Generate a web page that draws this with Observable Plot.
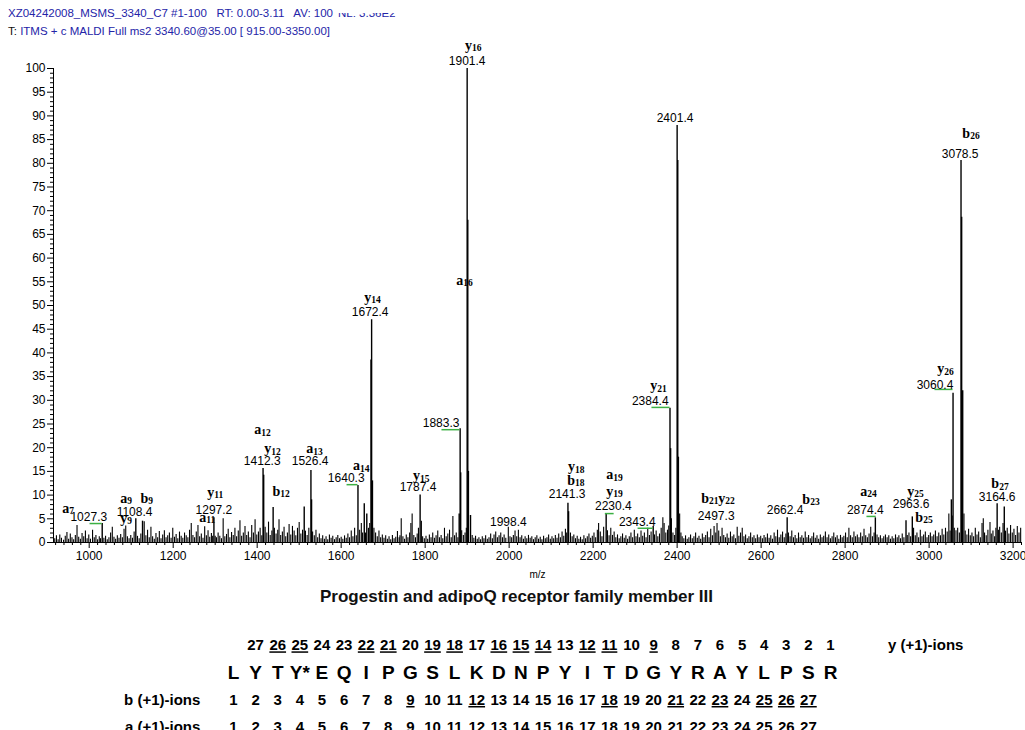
<!DOCTYPE html>
<html><head><meta charset="utf-8">
<script src="https://cdn.jsdelivr.net/npm/d3@7"></script>
<script src="https://cdn.jsdelivr.net/npm/@observablehq/plot@0.6"></script>
<style>
body{margin:0;background:#fff;}
#wrap{position:relative;width:1025px;height:730px;overflow:hidden;font-family:"Liberation Sans",Arial,sans-serif;background:#fff;}
.hdr{position:absolute;font-size:11.5px;color:#2424a8;white-space:pre;line-height:14px;}
#nl{clip-path:inset(50% 0 0 0);}
#main{position:absolute;left:0;top:0;}
#title{position:absolute;top:587px;left:0;width:1033px;text-align:center;font-weight:bold;font-size:17px;color:#111;line-height:20px;}
#table{position:absolute;left:0;top:615px;}
</style></head><body><div id="wrap">
<div class="hdr" id="h1" style="left:8px;top:6px;"></div>
<div class="hdr" id="nl" style="left:338px;top:6px;"></div>
<div class="hdr" id="h2" style="left:8px;top:24px;"></div>
<div id="main"></div>
<div id="title"></div>
<div id="table"></div>
</div>
<script>
// ---------- header / title text ----------
const headerLine1 = "XZ04242008_MSMS_3340_C7 #1-100   RT: 0.00-3.11   AV: 100";
const headerNL = "NL: 3.36E2";
const headerLine2a = "T:";
const headerLine2b = " ITMS + c MALDI Full ms2 3340.60@35.00 [ 915.00-3350.00]";
const chartTitle = "Progestin and adipoQ receptor family member III";

// ---------- axis ticks ----------
const xTicks = [1000, 1200, 1400, 1600, 1800, 2000, 2200, 2400, 2600, 2800, 3000, 3200];
const yTicks = [0, 5, 10, 15, 20, 25, 30, 35, 40, 45, 50, 55, 60, 65, 70, 75, 80, 85, 90, 95, 100];

// ---------- spectrum: major peaks [m/z, relative abundance] ----------
const majorPeaks = [
  [1031, 4.0], [1111, 5.0], [1127, 4.5], [1297, 5.2], [1414, 15.6], [1415.5, 14.2], [1438, 7.4],
  [1512, 7.5], [1528, 15.2], [1529.5, 9.0], [1640, 12.0], [1655, 8.2], [1661, 6.0],
  [1671, 38.5], [1672.5, 47.0], [1674.5, 13.0], [1788, 10.0], [1881, 6.0], [1883.3, 24.0], [1884.6, 14.7],
  [1900, 100], [1901.5, 68.0], [1903, 15.0], [1908, 5.7], [2140, 8.3], [2141.5, 6.5],
  [2231, 6.0], [2343, 3.4], [2383, 28.3], [2384.5, 19.8], [2386, 5.0],
  [2400, 88.0], [2401.5, 80.6], [2403, 18.0], [2662, 5.2], [2872, 5.2], [2945, 4.6], [2960, 5.4],
  [3053, 9.0], [3057, 31.5], [3076, 80.6], [3077.5, 68.6], [3080, 32.0], [3162, 8.2], [3179, 7.5]
];

// ---------- spectrum: baseline noise peaks [m/z, relative abundance] ----------
const minorPeaks = [
  [918,0.8],[922,1.4],[926,0.6],[930,1.6],[934,0.9],[939,0.5],[943,1.3],[947,2.1],[951,0.7],[955,1.8],[959,1.0],[963,0.6],[967,1.5],[971,3.6],[975,1.1],[979,0.7],[983,1.9],[987,1.2],[991,2.4],[995,0.8],[999,1.6],
  [1003,0.7],[1008,2.6],[1012,1.0],[1016,1.5],[1020,0.6],[1024,1.2],[1027,0.8],[1035,0.9],[1039,1.3],[1043,0.6],[1047,1.0],[1051,2.0],[1055,3.2],[1059,1.1],[1063,0.7],[1067,1.4],[1071,0.9],[1075,1.7],[1079,1.0],[1083,2.8],[1087,3.5],[1091,1.2],[1095,0.8],[1099,1.5],
  [1103,0.9],[1107,2.2],[1115,1.3],[1119,0.8],[1123,1.8],[1131,4.4],[1135,1.4],[1139,2.6],[1143,1.0],[1147,3.2],[1151,1.2],[1155,0.7],[1159,1.9],[1163,1.0],[1167,2.3],[1171,0.8],[1175,1.6],[1179,2.5],[1183,1.0],[1187,1.4],[1191,2.0],[1195,0.9],[1199,3.0],
  [1203,1.1],[1207,1.7],[1211,0.8],[1215,2.2],[1219,1.3],[1223,0.9],[1227,2.0],[1231,1.4],[1235,1.0],[1239,2.6],[1243,4.0],[1247,1.5],[1251,1.0],[1255,2.2],[1259,3.6],[1263,1.2],[1267,1.8],[1271,0.9],[1275,3.3],[1279,1.4],[1283,2.5],[1287,1.1],[1291,1.9],[1294,1.3],[1300,1.3],
  [1303,1.0],[1307,2.0],[1311,1.3],[1315,0.8],[1319,5.0],[1323,1.2],[1327,1.7],[1331,2.8],[1335,1.0],[1339,2.1],[1343,1.5],[1347,3.0],[1351,1.2],[1355,2.4],[1359,4.6],[1363,1.3],[1367,2.0],[1371,3.4],[1375,1.5],[1379,2.2],[1383,1.0],[1387,3.6],[1391,2.0],[1395,4.8],[1399,1.6],
  [1403,2.2],[1407,3.0],[1411,1.4],[1419,3.2],[1423,2.0],[1427,4.3],[1431,1.5],[1435,2.4],[1441,3.0],[1445,1.8],[1449,2.6],[1452,4.8],[1456,1.5],[1460,2.2],[1464,3.2],[1468,1.2],[1472,2.0],[1476,3.8],[1480,1.6],[1484,3.4],[1488,2.4],[1492,1.4],[1496,3.0],
  [1500,4.2],[1504,1.8],[1508,2.6],[1515,2.4],[1519,1.5],[1523,3.0],[1532,2.2],[1536,1.4],[1540,2.6],[1544,1.0],[1548,1.8],[1552,0.8],[1556,1.4],[1560,0.7],[1564,1.2],[1568,0.6],[1572,1.6],[1576,0.9],[1580,1.3],[1584,0.6],[1588,1.0],[1592,1.5],[1596,0.8],
  [1600,1.1],[1604,0.7],[1608,1.4],[1612,0.9],[1616,1.8],[1620,1.0],[1624,2.4],[1628,1.2],[1632,3.0],[1636,1.4],[1644,2.6],[1648,4.0],[1651,2.0],[1658,2.0],[1665,3.0],[1668,4.0],[1678,3.0],[1682,2.0],[1686,1.2],[1690,2.4],[1694,1.0],[1698,1.6],
  [1702,0.9],[1706,1.4],[1710,0.7],[1714,1.2],[1718,0.6],[1722,1.5],[1726,0.8],[1730,1.1],[1734,2.3],[1738,1.0],[1740,1.4],[1743,5.0],[1747,1.2],[1751,0.7],[1755,1.6],[1759,1.0],[1763,2.0],[1766,4.0],[1769,6.0],[1773,1.5],[1777,1.0],[1781,1.8],[1784,3.0],[1791,4.5],[1794,1.2],[1798,0.8],
  [1802,1.3],[1806,0.7],[1810,1.6],[1814,1.0],[1818,2.0],[1822,0.9],[1826,1.4],[1830,2.4],[1834,1.0],[1838,1.5],[1842,0.8],[1846,3.0],[1850,1.2],[1854,1.8],[1858,2.6],[1862,1.0],[1866,5.5],[1870,1.4],[1874,2.0],[1878,1.0],[1887,2.5],[1891,1.5],[1895,2.0],[1898,3.0],
  [1912,1.5],[1916,0.9],[1920,1.3],[1924,0.7],[1928,1.0],[1932,0.6],[1936,1.2],[1940,0.8],[1944,1.4],[1948,0.7],[1952,1.0],[1956,1.8],[1960,0.8],[1964,1.6],[1968,2.2],[1972,1.0],[1976,1.4],[1980,2.0],[1984,1.0],[1988,1.6],[1992,0.9],[1998,3.2],[2002,1.2],
  [2006,1.0],[2010,1.5],[2014,2.4],[2018,1.2],[2022,2.6],[2026,1.0],[2030,1.4],[2034,0.7],[2038,1.2],[2042,0.8],[2046,1.5],[2050,0.9],[2054,1.2],[2058,0.6],[2062,1.0],[2066,1.4],[2070,0.7],[2074,1.1],[2078,0.6],[2082,1.3],[2086,0.8],[2090,1.0],[2094,1.6],[2098,0.7],
  [2102,1.2],[2106,0.8],[2110,1.5],[2114,0.9],[2118,1.8],[2122,1.0],[2126,2.2],[2130,1.3],[2134,2.8],[2137,2.0],[2146,2.0],[2150,1.2],[2154,1.6],[2158,0.8],[2162,1.3],[2166,0.7],[2170,1.1],[2174,0.6],[2178,1.4],[2182,0.8],[2186,1.2],[2190,1.8],[2194,0.9],[2198,1.3],
  [2202,2.0],[2206,1.0],[2210,2.6],[2213,4.0],[2217,2.2],[2221,1.2],[2225,3.2],[2234,2.5],[2238,1.4],[2242,3.0],[2246,1.5],[2250,2.2],[2254,1.0],[2258,1.6],[2262,0.8],[2266,1.2],[2270,1.8],[2274,0.9],[2278,1.4],[2282,0.7],[2286,1.2],[2290,2.0],[2294,1.0],[2298,2.6],
  [2302,1.2],[2306,1.8],[2310,1.0],[2314,2.4],[2318,1.3],[2322,2.0],[2326,1.0],[2330,3.0],[2334,1.5],[2338,2.2],[2346,1.6],[2350,2.4],[2354,1.2],[2358,1.8],[2362,3.0],[2366,5.2],[2369,4.0],[2373,2.0],[2377,2.6],[2380,3.5],[2390,2.0],[2394,1.5],[2397,3.0],[2406,6.0],[2409,2.0],
  [2412,1.2],[2416,0.8],[2420,1.4],[2424,0.7],[2428,1.0],[2432,1.6],[2436,0.8],[2440,1.2],[2444,2.0],[2448,0.9],[2452,1.3],[2456,0.7],[2460,1.8],[2464,1.0],[2468,1.5],[2472,2.2],[2476,1.0],[2480,2.8],[2484,1.4],[2488,3.4],[2492,2.0],[2495,4.0],[2499,2.4],
  [2503,1.2],[2507,3.0],[2511,1.5],[2515,1.0],[2519,1.8],[2523,0.9],[2527,2.2],[2531,1.2],[2535,1.6],[2539,0.8],[2543,3.2],[2547,1.3],[2551,2.0],[2555,3.0],[2559,1.2],[2563,1.6],[2567,0.8],[2571,1.2],[2575,2.0],[2579,1.0],[2583,1.4],[2587,0.8],[2591,1.6],[2595,1.0],[2599,1.3],
  [2603,0.8],[2607,1.5],[2611,1.0],[2615,1.8],[2619,0.9],[2623,1.4],[2627,0.7],[2631,2.0],[2635,1.2],[2639,2.6],[2643,1.0],[2647,1.6],[2651,2.2],[2655,1.0],[2659,1.8],[2665,2.0],[2669,1.2],[2673,2.4],[2677,1.0],[2681,1.5],[2685,0.8],[2689,2.0],[2693,1.0],[2697,1.4],
  [2701,0.9],[2705,2.2],[2709,1.0],[2713,1.5],[2717,0.8],[2721,1.2],[2725,2.0],[2729,0.9],[2733,1.4],[2737,0.7],[2741,1.6],[2745,1.0],[2749,1.3],[2753,2.2],[2757,1.0],[2761,1.6],[2765,0.8],[2769,1.2],[2773,2.0],[2777,1.0],[2781,1.4],[2785,0.7],[2789,1.5],[2793,1.0],[2797,1.3],
  [2801,2.0],[2805,1.0],[2809,3.0],[2813,1.4],[2817,1.0],[2821,2.2],[2825,1.2],[2829,1.6],[2833,1.0],[2837,2.0],[2841,1.2],[2845,2.8],[2849,1.4],[2853,1.0],[2857,1.8],[2861,3.2],[2865,1.2],[2869,2.0],[2876,1.6],[2880,1.0],[2884,1.4],[2888,0.8],[2892,1.2],[2896,1.6],
  [2900,1.0],[2904,1.4],[2908,0.7],[2912,1.2],[2916,0.8],[2920,1.6],[2924,1.0],[2928,1.4],[2932,0.8],[2936,1.8],[2940,1.0],[2948,1.5],[2952,2.0],[2956,1.2],[2963,3.0],[2967,1.4],[2971,2.0],[2975,1.0],[2979,2.6],[2983,1.2],[2987,1.6],[2991,2.2],[2995,1.0],[2999,1.5],
  [3003,2.0],[3007,1.2],[3011,1.6],[3015,2.4],[3019,1.2],[3023,2.0],[3027,1.4],[3031,2.8],[3035,1.6],[3039,3.0],[3043,2.2],[3047,6.0],[3050,2.4],[3055,5.6],[3060,3.0],[3064,2.5],[3068,3.0],[3072,2.0],[3083,6.0],[3086,2.4],[3090,1.6],[3094,2.8],[3098,1.4],
  [3102,2.0],[3106,1.2],[3110,3.0],[3114,1.6],[3118,2.2],[3122,1.0],[3126,4.0],[3129,5.0],[3132,2.0],[3136,1.4],[3140,2.6],[3145,4.2],[3148,1.8],[3152,2.4],[3156,1.2],[3159,3.0],[3165,2.6],[3168,3.2],[3172,2.0],[3176,4.0],[3182,2.4],[3186,3.0],[3190,1.8],[3194,3.6],[3198,2.0],[3202,2.8],[3206,1.5],[3210,3.4],[3214,2.0],[3218,3.0]
];

// ---------- green annotation markers [m/z from, m/z to, level] ----------
const greenMarks = [
  [1002, 1031, 4.0], [1614, 1640, 12.2], [1840, 1883, 23.8], [2229, 2250, 6.1],
  [2307, 2343, 3.0], [2340, 2383, 28.5], [2852, 2874, 5.5], [3014, 3057, 32.3]
];

// ---------- peak m/z labels ----------
const mzLabelText = ["1027.3","1108.4","1297.2","1412.3","1526.4","1640.3","1672.4","1787.4","1883.3","1901.4","1998.4","2141.3","2230.4","2343.4","2384.4","2401.4","2497.3","2662.4","2874.4","2963.6","3060.4","3078.5","3164.6"];
const mzLabelX = [999,1108,1297,1412,1526,1612,1669,1783,1838,1900,1998,2138,2248,2305,2336,2395,2493,2657,2848,2957,3014,3074,3162];
const mzLabelY = [5.3,6.5,6.8,17.1,17.1,13.5,48.5,11.6,25.1,101.5,4.2,10.1,7.6,4.2,29.8,89.5,5.5,6.8,6.8,8.0,33.1,81.9,9.5];

// ---------- fragment ion labels ----------
const ionType = ["a","a","b","y","y","a","a","y","b","a","a","y","y","y","a","y","b","a","y","y","b","y","b","a","y","b","y","b","b"];
const ionNum  = ["7","9","9","9","11","11","12","12","12","13","14","14","15","16","16","18","18","19","19","21","21","22","23","24","25","25","26","26","27"];
const ionX = [948,1086,1136,1086,1293,1274,1405,1429,1450,1529,1640,1667,1783,1907,1886,2152,2152,2243,2243,2348,2471,2510,2712,2848,2960,2981,3031,3093,3162];
const ionY = [7.2,9.3,9.3,5.1,10.6,5.3,23.8,19.8,10.8,19.8,16.2,51.7,14.1,104.9,55.3,16.0,13.1,14.3,10.8,33.1,9.3,9.3,9.1,10.8,10.8,5.3,36.7,86.3,12.4];

// ---------- sequence table ----------
const sequence = ["L","Y","T","Y*","E","Q","I","P","G","S","L","K","D","N","P","Y","I","T","D","G","Y","R","A","Y","L","P","S","R"];
const yIonNumbers = d3.range(27, 0, -1);
const bIonNumbers = d3.range(1, 28);
const aIonNumbers = d3.range(1, 28);
const yUnderlined = [26,25,22,21,19,18,16,15,14,12,11,9];
const bUnderlined = [9,12,18,21,23,25,26,27];
const rowLabels = ["y (+1)-ions", "b (+1)-ions", "a (+1)-ions"];

// header
document.getElementById("h1").textContent = headerLine1;
document.getElementById("nl").textContent = headerNL;
const h2 = document.getElementById("h2");
const sT = document.createElement("span"); sT.style.color = "#111"; sT.textContent = headerLine2a;
const sR = document.createElement("span"); sR.textContent = headerLine2b;
h2.append(sT, sR);
document.getElementById("title").textContent = chartTitle;

const mzLabels = mzLabelText.map((t, i) => ({text: t, x: mzLabelX[i], y: mzLabelY[i]}));
const ions = ionType.map((t, i) => ({t, n: ionNum[i], x: ionX[i], y: ionY[i]}));
const greens = greenMarks.map(([a, b, v]) => ({x1: a, x2: b, y: v}));

const minorY = d3.range(0, 101).filter(v => v % 5 !== 0);
const minorX = d3.range(920, 3221, 20).filter(v => v % 200 !== 0);

const serif = "'Liberation Serif','Times New Roman',serif";
const main = Plot.plot({
  width: 1025, height: 590,
  marginLeft: 53, marginRight: 4, marginTop: 68, marginBottom: 48,
  x: {domain: [915, 3220]},
  y: {domain: [0, 100]},
  style: {fontFamily: "'Liberation Sans',Arial,sans-serif", fontSize: "12px", color: "#000", background: "transparent", overflow: "visible"},
  marks: [
    Plot.ruleX(minorPeaks, {x: d => d[0], y1: 0, y2: d => d[1], stroke: "#000", strokeWidth: 1.1}),
    Plot.ruleX(majorPeaks, {x: d => d[0], y1: 0, y2: d => d[1], stroke: "#000", strokeWidth: 1.4}),
    Plot.ruleY(greens, {x1: "x1", x2: "x2", y: "y", stroke: "#3cb043", strokeWidth: 1.5}),
    Plot.axisY(minorY, {tickSize: 3, tickFormat: () => "", label: null}),
    Plot.axisY(yTicks, {tickSize: 6, tickPadding: 2, label: null, fontSize: 12}),
    Plot.axisX(minorX, {tickSize: 3, tickFormat: () => "", label: null}),
    Plot.axisX(xTicks, {tickSize: 6, tickPadding: 3, label: null, fontSize: 12, tickFormat: d => String(d)}),
    Plot.ruleX([915], {stroke: "#000"}),
    Plot.ruleY([0], {stroke: "#000"}),
    Plot.text(["m/z"], {frameAnchor: "bottom", dy: 35, fontSize: 10}),
    Plot.text(mzLabels, {x: "x", y: "y", text: "text", fontSize: 12, fill: "#000"}),
    Plot.text(ions, {x: "x", y: "y", text: "t", textAnchor: "end", dx: 2, fontFamily: serif, fontWeight: "bold", fontSize: 14, fill: "#000"}),
    Plot.text(ions, {x: "x", y: "y", text: "n", textAnchor: "start", dx: 2, dy: 3, fontFamily: serif, fontWeight: "bold", fontSize: 9.5, fill: "#000"})
  ]
});
document.getElementById("main").append(main);

// sequence table
const narrow = "'Liberation Sans Narrow','Arial Narrow','Liberation Sans',Arial,sans-serif";
const yRow = yIonNumbers.map(k => ({col: 28 - k, text: String(k), u: yUnderlined.includes(k)}));
const bRow = bIonNumbers.map(k => ({col: k - 1, text: String(k), u: bUnderlined.includes(k)}));
const aRow = aIonNumbers.map(k => ({col: k - 1, text: String(k), u: false}));
const numOpts = (row) => ({x: "col", y: () => row, text: "text", fontFamily: narrow, fontWeight: "bold", fontSize: 15, fill: "#000"});
const table = Plot.plot({
  width: 1025, height: 125,
  x: {domain: [0, 27], range: [233, 830], axis: null},
  y: {domain: [0, 3], range: [30, 112], axis: null},
  style: {background: "transparent", overflow: "visible"},
  marks: [
    Plot.text(yRow.filter(d => !d.u), numOpts(0)),
    Plot.text(yRow.filter(d => d.u), {...numOpts(0), ariaDescription: "underlined"}),
    Plot.text(sequence.map((s, i) => ({col: i, text: s})), {x: "col", y: () => 1, text: "text", fontFamily: narrow, fontWeight: "bold", fontSize: 19, fill: "#000"}),
    Plot.text(bRow.filter(d => !d.u), numOpts(2)),
    Plot.text(bRow.filter(d => d.u), {...numOpts(2), ariaDescription: "underlined"}),
    Plot.text(aRow, numOpts(3)),
    Plot.text([rowLabels[0]], {x: () => 29.6, y: () => 0, text: d => d, textAnchor: "start", fontFamily: narrow, fontWeight: "bold", fontSize: 15}),
    Plot.text(rowLabels.slice(1), {x: () => -1.5, y: (d, i) => i + 2, text: d => d, textAnchor: "end", fontFamily: narrow, fontWeight: "bold", fontSize: 15})
  ]
});
table.querySelectorAll('g[aria-description="underlined"] text').forEach(t => t.style.textDecoration = "underline");
document.getElementById("table").append(table);
</script>
</body></html>
